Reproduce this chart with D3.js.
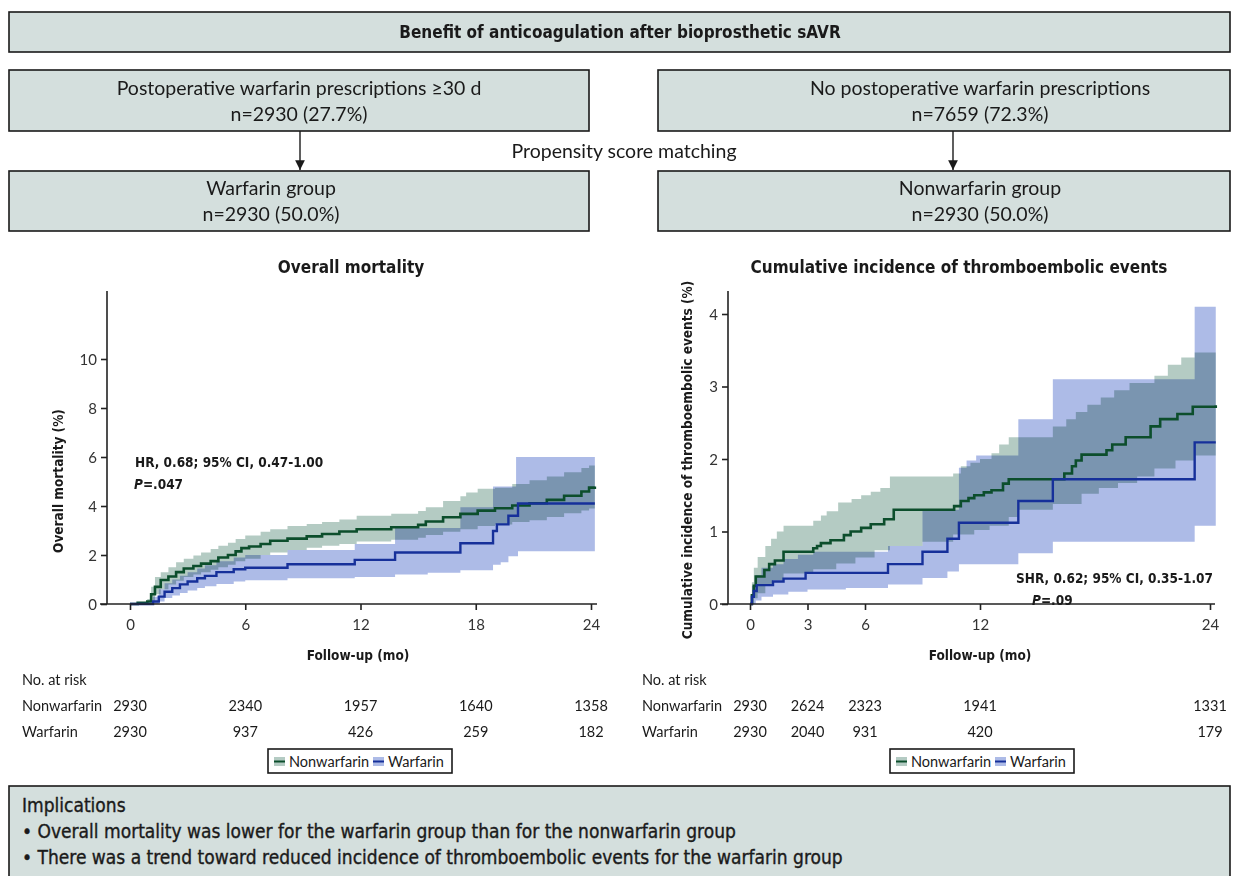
<!DOCTYPE html>
<html>
<head>
<meta charset="utf-8">
<script src="https://cdn.jsdelivr.net/npm/d3@7"></script>
<style>
  body { margin: 0; background: #fff; }
  svg { display: block; }
  .din { font-family: 'DejaVu Sans Condensed', 'DejaVu Sans', sans-serif; font-stretch: condensed; }
  .gill { font-family: Lato, 'Open Sans', sans-serif; }
  .band { mix-blend-mode: multiply; }
</style>
</head>
<body>
<div id="chart"></div>
<script>
// Values (step points: [month, percent]).
const mortXTicks = [0, 6, 12, 18, 24];
const mortYTicks = [0, 2, 4, 6, 8, 10];
const teXTicks = [0, 3, 6, 12, 24];
const teYTicks = [0, 1, 2, 3, 4];

const mortNonEst = [[0,0],[0.4,0.05],[0.9,0.1],[1.1,0.4],[1.3,0.7],[1.6,0.98],[2.0,1.12],[2.4,1.3],[2.8,1.45],[3.3,1.55],[3.7,1.65],[4.2,1.75],[4.6,1.9],[5.1,2.0],[5.5,2.15],[5.8,2.28],[6.2,2.35],[6.8,2.45],[7.3,2.58],[8.2,2.67],[9.2,2.76],[10.0,2.86],[10.9,2.96],[11.8,3.05],[13.6,3.13],[15.0,3.23],[15.4,3.37],[16.3,3.54],[17.2,3.68],[18.1,3.81],[19.0,3.91],[19.9,4.02],[20.8,4.11],[21.7,4.25],[22.6,4.42],[23.5,4.59],[23.9,4.75],[24.2,4.8]];
const mortNonLo = [[0,0],[1.1,0.1],[1.3,0.4],[1.6,0.6],[2.0,0.8],[2.4,0.95],[2.8,1.1],[3.3,1.2],[3.7,1.3],[4.2,1.4],[4.6,1.5],[5.1,1.6],[5.5,1.75],[6.0,1.85],[6.8,2.0],[7.3,2.1],[8.2,2.2],[9.2,2.3],[10.0,2.38],[10.9,2.45],[11.8,2.55],[13.6,2.62],[15.0,2.7],[15.4,2.82],[16.3,2.95],[17.2,3.05],[18.1,3.18],[19.0,3.25],[19.9,3.35],[20.8,3.42],[21.7,3.55],[22.6,3.7],[23.5,3.82],[23.9,3.9],[24.2,3.9]];
const mortNonHi = [[0,0],[0.9,0.2],[1.1,0.7],[1.3,1.1],[1.6,1.3],[2.0,1.5],[2.4,1.7],[2.8,1.85],[3.3,1.98],[3.7,2.1],[4.2,2.25],[4.6,2.38],[5.1,2.5],[5.5,2.65],[6.0,2.8],[6.8,2.95],[7.3,3.05],[8.2,3.18],[9.2,3.27],[10.0,3.35],[10.9,3.45],[11.8,3.6],[13.6,3.68],[15.0,3.8],[15.4,3.95],[16.3,4.2],[17.2,4.4],[17.5,4.55],[18.1,4.7],[19.0,4.75],[19.9,4.9],[20.8,5.05],[21.7,5.2],[22.6,5.38],[23.5,5.55],[23.9,5.65],[24.2,5.7]];

const mortWarEst = [[0,0],[1.2,0.1],[1.5,0.3],[1.8,0.5],[2.2,0.65],[2.6,0.8],[3.0,0.92],[3.5,1.05],[3.9,1.15],[4.5,1.3],[5.4,1.42],[6.0,1.48],[8.2,1.62],[11.7,1.8],[13.8,2.1],[17.2,2.48],[18.9,2.98],[19.1,3.25],[19.7,3.6],[20.2,4.1],[24.2,4.1]];
const mortWarLo = [[0,0],[1.5,0.1],[1.8,0.25],[2.2,0.35],[2.6,0.45],[3.0,0.55],[3.5,0.65],[3.9,0.72],[4.5,0.82],[5.4,0.92],[6.0,0.97],[8.2,1.05],[11.7,1.1],[13.8,1.2],[15.5,1.28],[17.2,1.38],[18.9,1.6],[19.3,1.7],[19.7,1.95],[20.2,2.15],[24.2,2.15]];
const mortWarHi = [[0,0],[1.2,0.3],[1.5,0.6],[1.8,0.85],[2.2,1.0],[2.6,1.15],[3.0,1.3],[3.5,1.45],[3.9,1.58],[4.5,1.75],[5.4,1.9],[6.0,2.0],[8.2,2.2],[11.7,2.45],[13.8,3.1],[17.2,3.95],[18.9,4.8],[20.1,6.0],[24.2,6.0]];

const teNonEst = [[0,0],[0.1,0.12],[0.2,0.25],[0.3,0.38],[0.75,0.47],[1.0,0.55],[1.3,0.6],[1.75,0.72],[3.3,0.77],[3.5,0.8],[3.7,0.84],[4.2,0.88],[4.9,0.95],[5.25,1.0],[5.8,1.05],[6.3,1.1],[7.0,1.17],[7.5,1.3],[10.65,1.35],[11.0,1.42],[11.4,1.46],[11.7,1.5],[12.2,1.54],[12.6,1.57],[13.2,1.66],[13.5,1.72],[16.4,1.8],[16.8,1.9],[17.0,1.98],[17.3,2.06],[18.6,2.12],[18.9,2.2],[19.6,2.3],[20.9,2.45],[21.4,2.55],[22.3,2.62],[23.1,2.72],[24.3,2.74]];
const teNonLo = [[0,0],[0.2,0.08],[0.4,0.15],[0.8,0.25],[1.2,0.33],[1.75,0.42],[3.3,0.48],[4.5,0.56],[5.5,0.64],[6.5,0.74],[7.3,0.8],[9.0,0.86],[10.6,0.96],[11.7,1.02],[12.5,1.08],[13.5,1.2],[14.0,1.3],[15.8,1.38],[17.3,1.52],[18.2,1.6],[19.2,1.67],[20.2,1.76],[21.1,1.87],[22.2,1.98],[23.2,2.05],[24.3,2.08]];
const teNonHi = [[0,0],[0.1,0.3],[0.2,0.5],[0.4,0.65],[0.8,0.8],[1.1,0.9],[1.4,1.0],[1.75,1.08],[3.3,1.15],[3.7,1.22],[4.0,1.28],[4.6,1.4],[5.3,1.45],[5.8,1.5],[6.3,1.55],[6.8,1.6],[7.3,1.76],[10.6,1.8],[11.0,1.9],[11.5,1.95],[12.0,2.0],[12.6,2.08],[13.0,2.2],[13.5,2.3],[15.8,2.45],[16.5,2.55],[17.0,2.65],[17.6,2.75],[18.3,2.85],[19.0,2.95],[19.8,3.05],[21.1,3.15],[21.8,3.3],[22.5,3.4],[23.2,3.47],[24.3,3.47]];

const teWarEst = [[0,0],[0.1,0.1],[0.2,0.18],[0.35,0.26],[1.2,0.31],[1.75,0.35],[2.9,0.43],[7.2,0.55],[9.0,0.72],[10.3,0.9],[10.9,1.12],[14.0,1.42],[15.8,1.72],[23.2,2.23],[24.3,2.23]];
const teWarLo = [[0,0],[0.3,0.05],[0.6,0.1],[1.2,0.13],[2.0,0.17],[3.0,0.2],[5.0,0.22],[7.2,0.27],[9.0,0.36],[10.3,0.45],[10.9,0.55],[14.0,0.7],[15.8,0.86],[23.2,1.08],[24.3,1.08]];
const teWarHi = [[0,0],[0.1,0.25],[0.3,0.4],[0.6,0.5],[1.2,0.55],[1.75,0.62],[2.5,0.68],[3.3,0.72],[7.2,0.8],[9.0,1.3],[10.9,1.88],[11.3,1.98],[11.8,2.05],[14.0,2.55],[15.8,3.1],[23.2,4.1],[24.3,4.1]];

const mortRiskTimes = [0, 6, 12, 18, 24];
const mortRiskNon = [2930, 2340, 1957, 1640, 1358];
const mortRiskWar = [2930, 937, 426, 259, 182];
const teRiskTimes = [0, 3, 6, 12, 24];
const teRiskNon = [2930, 2624, 2323, 1941, 1331];
const teRiskWar = [2930, 2040, 931, 420, 179];

const colNonLine = '#0c4e2c', colWarLine = '#16309a';
const colNonBand = '#b4cbc3', colWarBand = '#adbbe7';
const boxFill = '#d4dfdd', ink = '#1a1a1a';

const svg = d3.select('#chart').append('svg').attr('width', 1237).attr('height', 876);

// ---- flow boxes at the top ----
function box(x, y, w, h) {
  svg.append('rect').attr('x', x).attr('y', y).attr('width', w).attr('height', h)
    .attr('fill', boxFill).attr('stroke', ink).attr('stroke-width', 1.6);
}
function label(x, y, txt, cls, size, anchor) {
  return svg.append('text').attr('class', cls).attr('x', x).attr('y', y)
    .attr('font-size', size).attr('text-anchor', anchor || 'middle').attr('fill', ink).text(txt);
}

box(9, 12, 1221, 40);
label(620, 38, 'Benefit of anticoagulation after bioprosthetic sAVR', 'din', 17).attr('font-weight', 600);

box(9, 70, 580, 61);
box(658, 70, 572, 61);
label(299, 95, 'Postoperative warfarin prescriptions \u226530 d', 'gill', 19.5);
label(299, 121, 'n=2930 (27.7%)', 'gill', 19.5);
label(980, 95, 'No postoperative warfarin prescriptions', 'gill', 19.5);
label(980, 121, 'n=7659 (72.3%)', 'gill', 19.5);
label(624, 158, 'Propensity score matching', 'gill', 19.5);

box(9, 171, 580, 60);
box(658, 171, 572, 60);
label(271, 195, 'Warfarin group', 'gill', 19.5);
label(271, 221, 'n=2930 (50.0%)', 'gill', 19.5);
label(980, 195, 'Nonwarfarin group', 'gill', 19.5);
label(980, 221, 'n=2930 (50.0%)', 'gill', 19.5);

svg.append('defs').append('marker').attr('id', 'arrow').attr('viewBox', '0 0 10 10')
  .attr('refX', 10).attr('refY', 5).attr('markerWidth', 7).attr('markerHeight', 7)
  .attr('orient', 'auto').append('path').attr('d', 'M0,0 L10,5 L0,10 z').attr('fill', ink);
[300, 953].forEach(x => {
  svg.append('line').attr('x1', x).attr('x2', x).attr('y1', 131).attr('y2', 170)
    .attr('stroke', ink).attr('stroke-width', 1.4).attr('marker-end', 'url(#arrow)');
});

// ---- step-function helpers ----
function stepAt(series, t) {
  let v = series[0][1];
  for (const p of series) { if (p[0] <= t) v = p[1]; else break; }
  return v;
}
function bandRows(lo, hi) {
  const times = Array.from(new Set(lo.map(d => d[0]).concat(hi.map(d => d[0])))).sort((a, b) => a - b);
  return times.map(t => ({t: t, lo: stepAt(lo, t), hi: stepAt(hi, t)}));
}

function drawPanel(cfg) {
  const x = d3.scaleLinear().domain([0, 24]).range(cfg.xRange);
  const y = d3.scaleLinear().domain(cfg.yDomain).range([604, cfg.yTopPx]);
  const g = svg.append('g');

  // Bands (multiply so the overlap turns teal like the print)
  const area = d3.area().curve(d3.curveStepAfter)
    .x(d => x(d.t)).y0(d => y(d.lo)).y1(d => y(d.hi));
  g.append('path').attr('class', 'band').attr('d', area(bandRows(cfg.nonLo, cfg.nonHi))).attr('fill', colNonBand);
  g.append('path').attr('class', 'band').attr('d', area(bandRows(cfg.warLo, cfg.warHi))).attr('fill', colWarBand);

  const line = d3.line().curve(d3.curveStepAfter).x(d => x(d[0])).y(d => y(d[1]));
  g.append('path').attr('d', line(cfg.nonEst)).attr('fill', 'none').attr('stroke', colNonLine).attr('stroke-width', 2.6);
  g.append('path').attr('d', line(cfg.warEst)).attr('fill', 'none').attr('stroke', colWarLine).attr('stroke-width', 2.4);

  // Axes
  const xAxis = d3.axisBottom(x).tickValues(cfg.xTicks).tickSize(6).tickSizeOuter(0);
  const xg = g.append('g').attr('transform', 'translate(0,604)').call(xAxis);
  xg.select('.domain').attr('d', `M${cfg.xAxisFrom},0H${cfg.xAxisTo}`);
  const yAxis = d3.axisLeft(y).tickValues(cfg.yTicks).tickFormat(d3.format('d')).tickSize(6).tickSizeOuter(0);
  const yg = g.append('g').attr('transform', `translate(${cfg.yAxisX},0)`).call(yAxis);
  yg.select('.domain').attr('d', `M0,604V${cfg.yAxisTop}`);
  [xg, yg].forEach(a => {
    a.selectAll('.domain, .tick line').attr('stroke', '#222').attr('stroke-width', 1.6);
    a.selectAll('.tick text').attr('class', 'gill').attr('font-size', 15).attr('fill', '#333');
  });
  xg.selectAll('.tick text').attr('dy', '1.1em');
  yg.selectAll('.tick text').attr('x', -10).attr('dy', '0.36em');

  // Titles and labels
  label(cfg.titleX, 273, cfg.title, 'din', 17).attr('font-weight', 600);
  label(cfg.xLabelX, 660, 'Follow-up (mo)', 'din', 13.5).attr('font-weight', 600);
  svg.append('text').attr('class', 'din').attr('font-size', 13.5).attr('font-weight', 600)
    .attr('fill', ink).attr('text-anchor', 'middle')
    .attr('transform', `translate(${cfg.yLabelX},${cfg.yLabelY}) rotate(-90)`).text(cfg.yLabel);

  // Statistics annotation
  const ann = svg.append('text').attr('class', 'din').attr('font-size', 13.5).attr('font-weight', 600)
    .attr('fill', ink).attr('text-anchor', cfg.annAnchor);
  ann.append('tspan').attr('x', cfg.annX).attr('y', cfg.annY).text(cfg.annText);
  const p = ann.append('tspan').attr('x', cfg.annPX).attr('y', cfg.annY + 22).attr('text-anchor', 'start');
  p.append('tspan').attr('font-style', 'italic').text('P');
  p.append('tspan').text(cfg.annP);

  // Number at risk table
  label(cfg.tableX, 685, 'No. at risk', 'gill', 14.5, 'start');
  label(cfg.tableX, 711, 'Nonwarfarin', 'gill', 14.5, 'start');
  label(cfg.tableX, 737, 'Warfarin', 'gill', 14.5, 'start');
  cfg.riskTimes.forEach((t, i) => {
    label(x(t), 711, cfg.riskNon[i], 'gill', 14.5);
    label(x(t), 737, cfg.riskWar[i], 'gill', 14.5);
  });

  // Legend
  const lg = svg.append('g').attr('transform', `translate(${cfg.legendX},749)`);
  lg.append('rect').attr('width', 184).attr('height', 24).attr('fill', '#fff').attr('stroke', ink).attr('stroke-width', 1.6);
  [[colNonBand, colNonLine, 'Nonwarfarin', 6], [colWarBand, colWarLine, 'Warfarin', 105]].forEach(s => {
    lg.append('rect').attr('x', s[3]).attr('y', 8).attr('width', 11).attr('height', 9).attr('fill', s[0]);
    lg.append('line').attr('x1', s[3]).attr('x2', s[3] + 11).attr('y1', 12.5).attr('y2', 12.5)
      .attr('stroke', s[1]).attr('stroke-width', 2);
    lg.append('text').attr('class', 'gill').attr('x', s[3] + 15).attr('y', 17.5).attr('font-size', 14.5)
      .attr('fill', ink).text(s[2]);
  });
}

drawPanel({
  xRange: [130, 591], yDomain: [0, 10], yTopPx: 359,
  nonEst: mortNonEst, nonLo: mortNonLo, nonHi: mortNonHi,
  warEst: mortWarEst, warLo: mortWarLo, warHi: mortWarHi,
  xTicks: mortXTicks, yTicks: mortYTicks,
  xAxisFrom: 100, xAxisTo: 597, yAxisX: 107, yAxisTop: 291,
  title: 'Overall mortality', titleX: 351, xLabelX: 358,
  yLabel: 'Overall mortality (%)', yLabelX: 63, yLabelY: 481,
  annText: 'HR, 0.68; 95% CI, 0.47-1.00', annAnchor: 'start', annX: 135, annPX: 134, annY: 467, annP: '=.047',
  tableX: 22, riskTimes: mortRiskTimes, riskNon: mortRiskNon, riskWar: mortRiskWar,
  legendX: 268
});

drawPanel({
  xRange: [750, 1210], yDomain: [0, 4], yTopPx: 314,
  nonEst: teNonEst, nonLo: teNonLo, nonHi: teNonHi,
  warEst: teWarEst, warLo: teWarLo, warHi: teWarHi,
  xTicks: teXTicks, yTicks: teYTicks,
  xAxisFrom: 720, xAxisTo: 1215, yAxisX: 728, yAxisTop: 291,
  title: 'Cumulative incidence of thromboembolic events', titleX: 959, xLabelX: 980,
  yLabel: 'Cumulative incidence of thromboembolic events (%)', yLabelX: 692, yLabelY: 460,
  annText: 'SHR, 0.62; 95% CI, 0.35-1.07', annAnchor: 'end', annX: 1213, annPX: 1032, annY: 583, annP: '=.09',
  tableX: 642, riskTimes: teRiskTimes, riskNon: teRiskNon, riskWar: teRiskWar,
  legendX: 890
});

// ---- implications ----
box(9, 786, 1221, 100);
const implLines = ['Implications',
  '\u2022 Overall mortality was lower for the warfarin group than for the nonwarfarin group',
  '\u2022 There was a trend toward reduced incidence of thromboembolic events for the warfarin group'];
implLines.forEach((t, i) => {
  label(22, 812 + i * 26, t, 'din', 19, 'start')
    .attr('stroke', ink).attr('stroke-width', 0.35);
});
</script>
</body>
</html>
